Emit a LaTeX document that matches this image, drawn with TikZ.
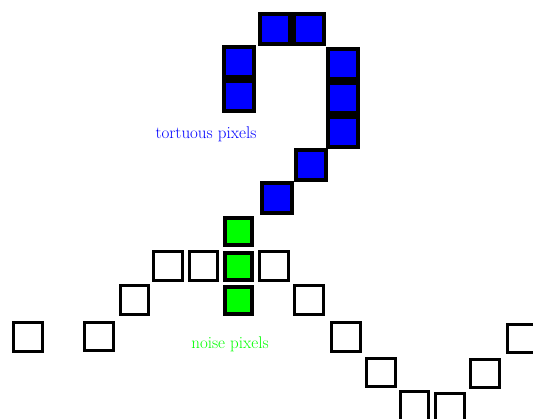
\documentclass[tikz,border=0pt]{standalone}
\begin{document}
\begin{tikzpicture}[x=1pt,y=-1pt,
  bpix/.style={draw=black,line width=4pt,fill=blue,minimum size=30pt,inner sep=0pt,outer sep=0pt},
  gpix/.style={draw=black,line width=4pt,fill=green,minimum size=27.5pt,inner sep=0pt,outer sep=0pt},
  epix/.style={draw=black,line width=3pt,fill=white,minimum size=28.5pt,inner sep=0pt,outer sep=0pt},
  lbl/.style={font=\fontsize{17}{20}\selectfont,anchor=base,inner sep=0pt}]
\useasboundingbox (0,0) rectangle (533,418);
\clip (0,0) rectangle (533,418);
% tortuous (blue) pixels
\node[bpix] (b1) at (274.5,28.5) {};
\node[bpix] (b2) at (309,28.5) {};
\node[bpix] (b3) at (239,61.5) {};
\node[bpix] (b4) at (239,96) {};
\node[bpix] (b5) at (342.5,64) {};
\node[bpix] (b6) at (342.5,98) {};
\node[bpix] (b7) at (342.5,132) {};
\node[bpix] (b8) at (310.5,164.5) {};
\node[bpix] (b9) at (277,197.5) {};
% noise (green) pixels
\node[gpix] (g1) at (238.5,231.5) {};
\node[gpix] (g2) at (238.5,266.5) {};
\node[gpix] (g3) at (238.5,300.5) {};
% empty pixels
\node[epix] (e1) at (168,266) {};
\node[epix] (e2) at (203.5,266) {};
\node[epix] (e3) at (274,266) {};
\node[epix] (e4) at (134.5,300) {};
\node[epix] (e5) at (309,300) {};
\node[epix] (e6) at (28,337) {};
\node[epix] (e7) at (99,336.5) {};
\node[epix] (e8) at (346,337) {};
\node[epix] (e9) at (381,372.5) {};
\node[epix] (e10) at (414.5,406) {};
\node[epix] (e11) at (450,408) {};
\node[epix] (e12) at (485,373.5) {};
\node[epix] (e13) at (522,338.5) {};
% labels
\node[lbl,text=blue] (tl) at (206,138) {tortuous pixels};
\node[lbl,text=green] (nl) at (230,348) {noise pixels};
\end{tikzpicture}
\end{document}
